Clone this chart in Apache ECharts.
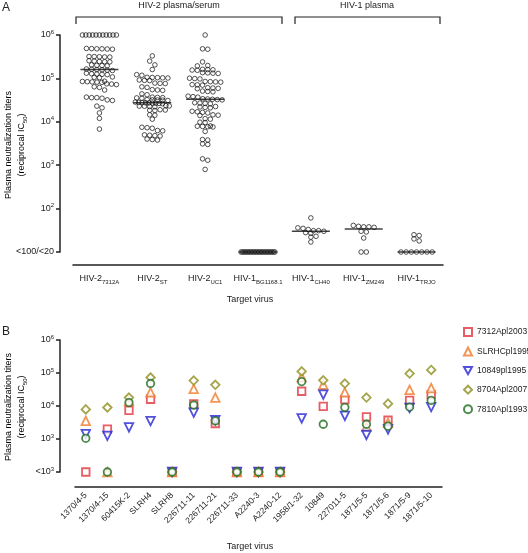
<!DOCTYPE html>
<html><head><meta charset="utf-8">
<script src="https://cdn.jsdelivr.net/npm/echarts@6/dist/echarts.min.js"></script>
<style>html,body{margin:0;padding:0;background:#fff}#c{width:528px;height:553px}</style>
</head><body><div id="c"></div>
<script>
const FONT = 'Liberation Sans, Arial, Helvetica, sans-serif';

// ---------- Panel A data ----------
const virusA = ['HIV-2', 'HIV-2', 'HIV-2', 'HIV-1', 'HIV-1', 'HIV-1', 'HIV-1'];
const strainA = ['7312A', 'ST', 'UC1', 'BG1168.1', 'CH40', 'ZM249', 'TRJO'];
const tickValuesA = [10, 100, 1000, 10000, 100000, 1000000];
const tickLabelsA = ['{n|<100/<20}', '{n|10}{sup|2}', '{n|10}{sup|3}', '{n|10}{sup|4}', '{n|10}{sup|5}', '{n|10}{sup|6}'];
const titers7312A = [1000000, 1000000, 1000000, 1000000, 1000000, 1000000, 1000000, 1000000, 1000000, 1000000, 1000000,
  490000, 485000, 480000, 480000, 475000, 470000,
  320000, 318000, 315000, 312000, 310000,
  255000, 250000, 245000, 242000, 240000,
  205000, 200000, 198000, 195000,
  165000, 162000, 160000, 158000, 155000, 152000,
  132000, 128000, 126000, 124000, 122000,
  108000, 106000, 104000,
  86000, 85000, 84000, 83000, 82000, 81000,
  75000, 74000, 72000, 64000, 62000, 54000,
  37000, 36000, 36000, 35000, 32000, 31000, 23000, 21000, 16000, 12000, 6800];
const titersST = [330000, 250000, 205000, 160000, 122000, 118000, 106000, 105000, 104000, 103000, 102000,
  92000, 90000, 89000, 78000, 77000, 76000, 64000, 62000, 55000, 54000, 53000, 44000, 42000,
  37000, 36500, 36000, 35500, 35000, 32500, 32000, 31800, 31500, 31000, 28500,
  28000, 27800, 27500, 27300, 27000, 26800, 26500, 26200,
  23500, 23200, 23000, 22800, 22500, 22200, 19000, 18700, 18500, 18200, 14500, 14200, 11500,
  7500, 7300, 7100, 6300, 6200, 5000, 4900, 4800, 4700, 4000, 3900, 3800];
const titersUC1 = [1000000, 480000, 470000, 240000, 198000, 194000,
  162000, 160000, 158000, 156000, 154000, 136000, 134000, 132000, 130000,
  101000, 99000, 97000, 85000, 84000, 83000, 82000, 72000, 71000, 70000,
  61000, 60000, 59000, 58000, 51000, 50000, 49000, 39000, 38000, 37000,
  34000, 33500, 33000, 32500, 32000, 27500, 27000, 26500, 26000,
  22500, 22000, 21500, 21000, 17500, 17000, 16500, 16000, 14500, 14200, 14000,
  11800, 11500, 9800, 9600, 8000, 7900, 7800, 7700, 7600, 6000,
  3900, 3800, 3100, 3000, 1400, 1300, 800];
const titersBG = [10, 10, 10, 10, 10, 10, 10, 10, 10, 10, 10, 10,
  10, 10, 10, 10, 10, 10, 10, 10, 10, 10, 10, 10];
const titersCH40 = [61, 36, 35, 33, 31, 31, 30, 28, 27, 23, 22, 17];
const titersZM249 = [41, 39, 38, 38, 37, 30, 29, 21, 10, 10];
const titersTRJO = [25, 24, 20, 18, 10, 10, 10, 10, 10, 10, 10];
const mediansA = [160000, 27500, 33000, 10, 30, 34, 10];

// ---------- Panel B data ----------
const virusB = ['1370/4-5', '1370/4-15', '60415K-2', 'SLRH4', 'SLRH8', '226711-11', '226711-21', '226711-33',
  'A2240-3', 'A2240-12', '1958/1-32', '10849', '227011-5', '1871/5-5', '1871/5-6', '1871/5-9', '1871/5-10'];
const tickValuesB = [100, 1000, 10000, 100000, 1000000];
const tickLabelsB = ['{n|<10}{sup|3}', '{n|10}{sup|3}', '{n|10}{sup|4}', '{n|10}{sup|5}', '{n|10}{sup|6}'];
const plasmaB = ['7312Apl2003', 'SLRHCpl1995', '10849pl1995', '8704Apl2007', '7810Apl1993'];
const p7312Apl2003 = [100, 2000, 7400, 16000, 100, 11500, 2950, 100, 100, 100, 28000, 9800, 15500, 4700, 3700, 14800, 22000];
const pSLRHCpl1995 = [3550, 100, 14000, 26000, 100, 33000, 18000, 100, 100, 100, 75000, 44000, 26000, 2350, 3100, 31000, 35000];
const p10849pl1995 = [1400, 1250, 2250, 3500, 100, 6300, 3700, 100, 100, 100, 4200, 22000, 5000, 1320, 1950, 8700, 9300];
const p8704Apl2007 = [7900, 9000, 18000, 73000, 100, 59000, 44000, 100, 100, 100, 112000, 60000, 48000, 18000, 11800, 96000, 124000];
const p7810Apl1993 = [1050, 100, 12700, 48000, 100, 10700, 3550, 100, 100, 100, 55000, 2800, 9100, 2800, 2450, 9300, 14800];

const groupsA = [titers7312A, titersST, titersUC1, titersBG, titersCH40, titersZM249, titersTRJO];
const seriesB = [p7312Apl2003, pSLRHCpl1995, p10849pl1995, p8704Apl2007, p7810Apl1993];
const colorsB = ['#e2353d', '#f07a2a', '#2626d4', '#8e8e1e', '#1f6d1f'];
const symbolsB = ['rect', 'triangle', 'triangle', 'diamond', 'circle'];
const legendIcons = ['rect', 'triangle', 'path://M0,0L10,0L5,9Z', 'diamond', 'circle'];
const rotB = [0, 0, 180, 0, 0];
const sizeB = [7.5, 8.5, 8.5, 8.5, 7.5];

const chart = echarts.init(document.getElementById('c'), null, {renderer: 'canvas'});

const richY = {
  n: {fontSize: 9, fontFamily: FONT, color: '#222', lineHeight: 12},
  sup: {fontSize: 6, fontFamily: FONT, color: '#222', verticalAlign: 'top', lineHeight: 7}
};
const richX = {
  n: {fontSize: 9, fontFamily: FONT, color: '#222', lineHeight: 12},
  sub: {fontSize: 6, fontFamily: FONT, color: '#222', verticalAlign: 'bottom', lineHeight: 8}
};
function lookup(vals, labels) {
  return function (v) {
    for (let i = 0; i < vals.length; i++) {
      if (Math.abs(Math.log10(v) - Math.log10(vals[i])) < 1e-6) return labels[i];
    }
    return '';
  };
}
const axisLineStyle = {color: '#222', width: 1.5};

const baseOption = {
  animation: false,
  backgroundColor: '#fff',
  grid: [
    {left: 73, top: 35, width: 370, height: 217},
    {left: 75, top: 340, width: 367, height: 132}
  ],
  xAxis: [
    {gridIndex: 0, type: 'category', data: strainA, offset: 13,
      axisLine: {lineStyle: axisLineStyle}, axisTick: {alignWithLabel: true, length: 5, lineStyle: {width: 1.5, color: '#222'}},
      axisLabel: {margin: 8, interval: 0, formatter: function (v, i) { return '{n|' + virusA[i] + '}{sub|' + v + '}'; }, rich: richX},
      splitLine: {show: false}},
    {gridIndex: 1, type: 'category', data: virusB, offset: 15,
      axisLine: {lineStyle: axisLineStyle}, axisTick: {alignWithLabel: true, length: 5, lineStyle: {width: 1.5, color: '#222'}},
      axisLabel: {margin: 7, rotate: 45, interval: 0, fontSize: 8.5, fontFamily: FONT, color: '#222'},
      splitLine: {show: false}}
  ],
  yAxis: [
    {gridIndex: 0, type: 'log', logBase: 10, min: 10, max: 1000000, offset: 13,
      axisLine: {show: true, lineStyle: axisLineStyle}, axisTick: {show: true, length: 4, lineStyle: {width: 1.5, color: '#222'}},
      axisLabel: {margin: 6, formatter: lookup(tickValuesA, tickLabelsA), rich: richY},
      splitLine: {show: false}, minorTick: {show: false}},
    {gridIndex: 1, type: 'log', logBase: 10, min: 100, max: 1000000, offset: 15,
      axisLine: {show: true, lineStyle: axisLineStyle}, axisTick: {show: true, length: 4, lineStyle: {width: 1.5, color: '#222'}},
      axisLabel: {margin: 6, formatter: lookup(tickValuesB, tickLabelsB), rich: richY},
      splitLine: {show: false}}
  ],
  legend: {
    orient: 'vertical', left: 463, top: 327, itemWidth: 8, itemHeight: 8, itemGap: 9.5,
    data: plasmaB.map(function (n, i) { return {name: n, icon: legendIcons[i]}; }),
    textStyle: {fontSize: 8.5, fontFamily: FONT, color: '#222'}, padding: 0
  },
  series: []
};
chart.setOption(baseOption);

// beeswarm-like row layout computed from the axis scale
function swarm(values, catIdx) {
  const pts = values.map(function (v) {
    return {v: v, y: chart.convertToPixel({gridIndex: 0}, [catIdx, v])[1]};
  });
  pts.sort(function (a, b) { return a.y - b.y; });
  const out = [];
  let i = 0;
  while (i < pts.length) {
    let j = i;
    while (j < pts.length && pts[j].y - pts[i].y < 4) j++;
    const n = j - i;
    const s = n > 1 ? Math.min(5.2, 34 / (n - 1)) : 0;
    for (let k = 0; k < n; k++) {
      out.push({value: [catIdx, pts[i + k].v], symbolOffset: [(k - (n - 1) / 2) * s, 0]});
    }
    i = j;
  }
  return out;
}

const series = [];
groupsA.forEach(function (g, ci) {
  series.push({
    type: 'scatter', xAxisIndex: 0, yAxisIndex: 0, data: swarm(g, ci), symbol: 'circle', symbolSize: 4.6,
    itemStyle: {color: 'rgba(255,255,255,0)', borderColor: '#111', borderWidth: 0.9}, z: 2, silent: true
  });
});
series.push({
  type: 'scatter', xAxisIndex: 0, yAxisIndex: 0, symbol: 'rect', symbolSize: [38, 1.6],
  data: mediansA.map(function (m, i) { return [i, m]; }),
  itemStyle: {color: '#111'}, z: 3, silent: true
});
seriesB.forEach(function (d, si) {
  series.push({
    name: plasmaB[si], type: 'scatter', xAxisIndex: 1, yAxisIndex: 1,
    data: d.map(function (v, i) { return [i, v]; }),
    symbol: symbolsB[si], symbolSize: sizeB[si], symbolRotate: rotB[si],
    itemStyle: {color: '#fff', borderColor: colorsB[si], borderWidth: 1.8}, z: 2 + si
  });
});

const richName = {
  n: {fontSize: 9, fontFamily: FONT, color: '#222', lineHeight: 13},
  sub: {fontSize: 6, fontFamily: FONT, color: '#222', verticalAlign: 'bottom', lineHeight: 9}
};
const nameText = '{n|Plasma neutralization titers}\n{n|(reciprocal IC}{sub|50}{n|)}';
function txt(x, y, text, size, align) {
  return {type: 'text', x: x, y: y, silent: true,
    style: {text: text, fontSize: size, fontFamily: FONT, fill: '#222', align: align || 'center', verticalAlign: 'middle'}};
}
const graphic = [
  txt(2, 8, 'A', 12, 'left'),
  txt(2, 332, 'B', 12, 'left'),
  txt(179, 6, 'HIV-2 plasma/serum', 9),
  txt(367, 6, 'HIV-1 plasma', 9),
  txt(250, 300, 'Target virus', 9),
  txt(250, 547, 'Target virus', 9),
  {type: 'polyline', silent: true, shape: {points: [[76, 24], [76, 17], [282, 17], [282, 24]]}, style: {stroke: '#222', lineWidth: 1.2, fill: null}},
  {type: 'polyline', silent: true, shape: {points: [[295, 24], [295, 17], [440, 17], [440, 24]]}, style: {stroke: '#222', lineWidth: 1.2, fill: null}},
  {type: 'text', x: 15, y: 145, rotation: Math.PI / 2, silent: true,
    style: {text: nameText, rich: richName, align: 'center', verticalAlign: 'middle'}},
  {type: 'text', x: 15, y: 407, rotation: Math.PI / 2, silent: true,
    style: {text: nameText, rich: richName, align: 'center', verticalAlign: 'middle'}}
];

chart.setOption({series: series, graphic: graphic});
</script>
</body></html>
